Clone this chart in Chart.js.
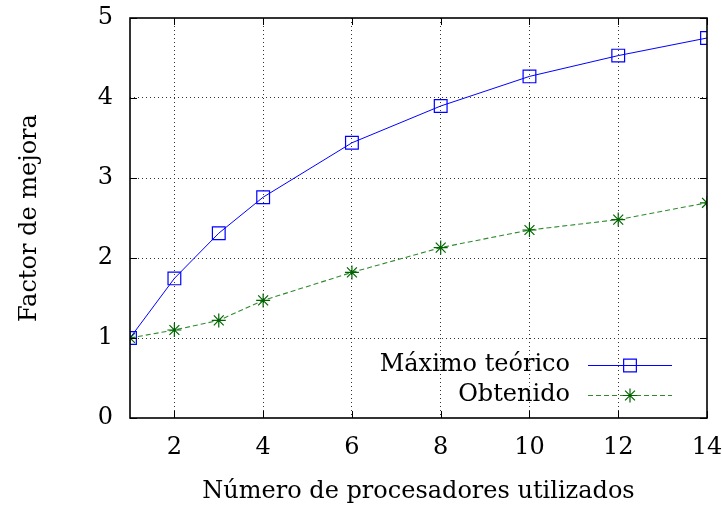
<!DOCTYPE html>
<html>
<head>
<meta charset="utf-8">
<script src="https://cdn.jsdelivr.net/npm/chart.js@4/dist/chart.umd.min.js"></script>
<style>
  html, body { margin: 0; padding: 0; background: #fff; }
  #wrap { width: 722px; height: 506px; }
</style>
</head>
<body>
<div id="wrap"><canvas id="c" width="722" height="506"></canvas></div>
<script>
// ---- data ----
const processors = [1, 2, 3, 4, 6, 8, 10, 12, 14];
const maximoTeorico = [1.00, 1.745, 2.31, 2.76, 3.44, 3.90, 4.27, 4.53, 4.75];
const obtenido = [1.00, 1.10, 1.22, 1.47, 1.82, 2.13, 2.35, 2.48, 2.69];
const seriesNames = ['Máximo teórico', 'Obtenido'];
const xTicks = [2, 4, 6, 8, 10, 12, 14];
const yTicks = [0, 1, 2, 3, 4, 5];
const xTitle = 'Número de procesadores utilizados';
const yTitle = 'Factor de mejora';

const FONT = 'DejaVu Serif';
const FSIZE = 24;

const toPts = (arr) => processors.map((p, i) => ({ x: p, y: arr[i] }));

// Inward tick marks on all four sides and the full frame
const framePlugin = {
  id: 'frame',
  afterDatasetsDraw(chart) {
    const { ctx, chartArea: a, scales } = chart;
    ctx.save();
    ctx.strokeStyle = '#000';
    ctx.lineWidth = 1;
    const L = 7;
    scales.x.ticks.forEach(t => {
      const px = Math.round(scales.x.getPixelForValue(t.value)) + 0.5;
      ctx.beginPath();
      ctx.moveTo(px, a.bottom); ctx.lineTo(px, a.bottom - L);
      ctx.moveTo(px, a.top); ctx.lineTo(px, a.top + L);
      ctx.stroke();
    });
    scales.y.ticks.forEach(t => {
      const py = Math.round(scales.y.getPixelForValue(t.value)) + 0.5;
      ctx.beginPath();
      ctx.moveTo(a.left, py); ctx.lineTo(a.left + L, py);
      ctx.moveTo(a.right, py); ctx.lineTo(a.right - L, py);
      ctx.stroke();
    });
    ctx.lineWidth = 1.6;
    ctx.strokeRect(a.left, a.top, a.right - a.left, a.bottom - a.top);
    ctx.restore();
  }
};

// gnuplot-style legend: text right-aligned, sample to its right
const legendPlugin = {
  id: 'gpLegend',
  afterDraw(chart) {
    const { ctx } = chart;
    const textRight = 570, x0 = 588, x1 = 672, y0 = 365, dy = 30;
    ctx.save();
    chart.data.datasets.forEach((ds, i) => {
      const y = y0 + i * dy;
      ctx.font = FSIZE + 'px "' + FONT + '"';
      ctx.fillStyle = '#000';
      ctx.textAlign = 'right';
      ctx.textBaseline = 'middle';
      ctx.fillText(ds.label, textRight, y);
      ctx.strokeStyle = ds.borderColor;
      ctx.lineWidth = ds.borderWidth;
      ctx.setLineDash(ds.borderDash || []);
      ctx.beginPath();
      ctx.moveTo(x0, y + 0.5); ctx.lineTo(x1, y + 0.5);
      ctx.stroke();
      ctx.setLineDash([]);
      const opts = { pointStyle: ds.pointStyle, radius: ds.pointRadius, borderWidth: ds.pointBorderWidth, rotation: 0 };
      ctx.strokeStyle = ds.pointBorderColor;
      ctx.fillStyle = 'rgba(0,0,0,0)';
      ctx.lineWidth = ds.pointBorderWidth;
      Chart.helpers.drawPoint(ctx, opts, 630, y + 0.5);
    });
    ctx.restore();
  }
};

new Chart(document.getElementById('c'), {
  type: 'line',
  data: {
    datasets: [
      {
        label: seriesNames[0],
        data: toPts(maximoTeorico),
        borderColor: '#0000ff',
        borderWidth: 1,
        pointStyle: 'rect',
        pointRadius: 9,
        pointBorderWidth: 1.2,
        pointBorderColor: '#0000ff',
        pointBackgroundColor: 'rgba(0,0,0,0)',
        fill: false,
        tension: 0
      },
      {
        label: seriesNames[1],
        data: toPts(obtenido),
        borderColor: '#2e8b2e',
        borderWidth: 1.1,
        borderDash: [5, 3],
        pointStyle: 'star',
        pointRadius: 7,
        pointBorderWidth: 1.2,
        pointBorderColor: '#006400',
        pointBackgroundColor: 'rgba(0,0,0,0)',
        fill: false,
        tension: 0
      }
    ]
  },
  options: {
    responsive: false,
    animation: false,
    devicePixelRatio: 1,
    layout: { padding: { top: 18, right: 15, left: 0, bottom: 0 } },
    plugins: { legend: { display: false }, tooltip: { enabled: false } },
    scales: {
      x: {
        type: 'linear',
        min: 1, max: 14,
        afterBuildTicks: (s) => { s.ticks = xTicks.map(v => ({ value: v })); },
        afterFit: (s) => { s.height = 88; s.paddingLeft = 0; s.paddingRight = 0; },
        border: { display: false, dash: [1, 3] },
        grid: {
          drawTicks: false,
          color: (c) => (c.tick && c.tick.value === 14) ? 'rgba(0,0,0,0)' : '#333',
          lineWidth: 1,
        },
        ticks: {
          padding: 15,
          color: '#000',
          font: { family: FONT, size: FSIZE },
          maxRotation: 0,
          autoSkip: false,
          callback: (v) => String(v)
        },
        title: {
          display: true,
          text: xTitle,
          color: '#000',
          font: { family: FONT, size: FSIZE },
          padding: { top: 0, bottom: 0 }
        }
      },
      y: {
        type: 'linear',
        min: 0, max: 5,
        afterBuildTicks: (s) => { s.ticks = yTicks.map(v => ({ value: v })); },
        afterFit: (s) => { s.width = 130; s.paddingTop = 0; s.paddingBottom = 0; },
        border: { display: false, dash: [1, 3] },
        grid: {
          drawTicks: false,
          color: (c) => (c.tick && (c.tick.value === 0 || c.tick.value === 5)) ? 'rgba(0,0,0,0)' : '#333',
          lineWidth: 1,
        },
        ticks: {
          padding: 17,
          color: '#000',
          font: { family: FONT, size: FSIZE },
          autoSkip: false,
          callback: (v) => String(v)
        },
        title: {
          display: true,
          text: yTitle,
          color: '#000',
          font: { family: FONT, size: FSIZE },
          padding: { top: 15, bottom: 0 }
        }
      }
    }
  },
  plugins: [framePlugin, legendPlugin]
});
</script>
</body>
</html>
